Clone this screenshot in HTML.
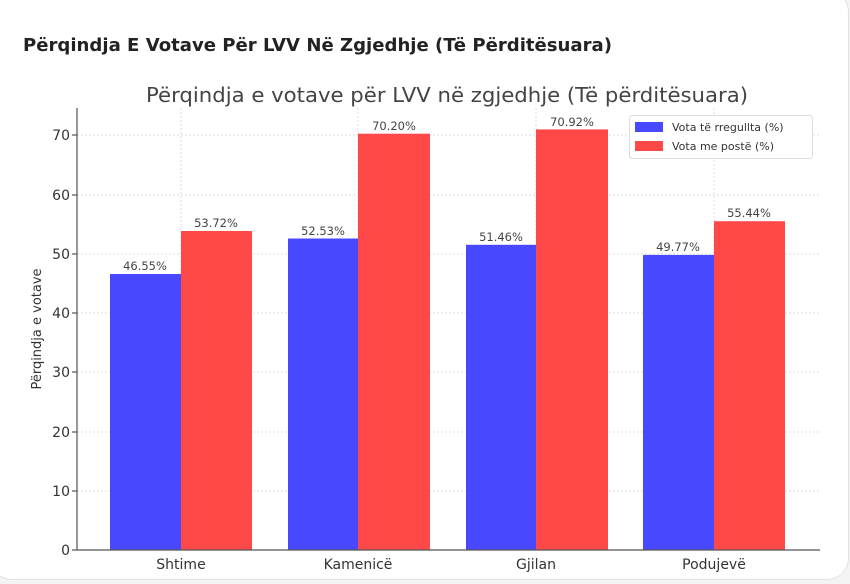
<!DOCTYPE html>
<html><head><meta charset="utf-8"><style>
body{margin:0;background:#f4f4f4;}
.card{position:absolute;left:-10px;top:-10px;width:857px;height:588px;background:#fff;border:1px solid #e2e2e2;border-radius:22px;}
svg{position:absolute;left:0;top:0;}
text{font-family:"DejaVu Sans","Liberation Sans",sans-serif;}
</style></head><body>
<div class="card"></div>
<svg width="850" height="584" viewBox="0 0 850 584">
<text x="23" y="51" font-size="18" font-weight="bold" fill="#222" textLength="589" lengthAdjust="spacingAndGlyphs">Përqindja E Votave Për LVV Në Zgjedhje (Të Përditësuara)</text>
<text x="146" y="102" font-size="20" fill="#444" textLength="602" lengthAdjust="spacingAndGlyphs">Përqindja e votave për LVV në zgjedhje (Të përditësuara)</text>
<g stroke="#ddd" stroke-dasharray="2,2" stroke-width="1">
<line x1="77" x2="820" y1="491" y2="491"/><line x1="77" x2="820" y1="432" y2="432"/>
<line x1="77" x2="820" y1="372" y2="372"/><line x1="77" x2="820" y1="313" y2="313"/>
<line x1="77" x2="820" y1="254" y2="254"/><line x1="77" x2="820" y1="195" y2="195"/>
<line x1="77" x2="820" y1="135" y2="135"/>
<line x1="181" x2="181" y1="108" y2="550"/><line x1="358" x2="358" y1="108" y2="550"/>
<line x1="536" x2="536" y1="108" y2="550"/><line x1="714" x2="714" y1="108" y2="550"/>
</g>
<g fill="#4848ff">
<rect x="110" y="274" width="71" height="276"/><rect x="288" y="238.5" width="70" height="311.5"/>
<rect x="466" y="244.8" width="70" height="305.2"/><rect x="643" y="254.9" width="71" height="295.1"/>
</g>
<g fill="#ff4848">
<rect x="181" y="231" width="71" height="319"/><rect x="358" y="133.7" width="72" height="416.3"/>
<rect x="536" y="129.4" width="72" height="420.6"/><rect x="714" y="221.2" width="71" height="328.8"/>
</g>
<g font-size="11.5" fill="#444" text-anchor="middle">
<text x="145" y="270">46.55%</text><text x="216" y="227">53.72%</text>
<text x="323" y="235">52.53%</text><text x="394" y="130">70.20%</text>
<text x="501" y="241">51.46%</text><text x="572" y="126">70.92%</text>
<text x="678" y="251">49.77%</text><text x="749" y="217">55.44%</text>
</g>
<g stroke="#555" stroke-width="1.2"><line x1="77" x2="77" y1="108" y2="550"/><line x1="77" x2="820" y1="550" y2="550"/>
<line x1="72" x2="77" y1="550" y2="550"/><line x1="72" x2="77" y1="491" y2="491"/><line x1="72" x2="77" y1="432" y2="432"/>
<line x1="72" x2="77" y1="372" y2="372"/><line x1="72" x2="77" y1="313" y2="313"/><line x1="72" x2="77" y1="254" y2="254"/>
<line x1="72" x2="77" y1="195" y2="195"/><line x1="72" x2="77" y1="135" y2="135"/></g>
<g font-size="14" fill="#333" text-anchor="end">
<text x="70" y="555">0</text><text x="70" y="496">10</text><text x="70" y="437">20</text><text x="70" y="377">30</text>
<text x="70" y="318">40</text><text x="70" y="259">50</text><text x="70" y="200">60</text><text x="70" y="140">70</text>
</g>
<g font-size="14" fill="#333" text-anchor="middle">
<text x="181" y="569">Shtime</text><text x="358" y="569">Kamenicë</text><text x="536" y="569">Gjilan</text><text x="714" y="569">Podujevë</text>
</g>
<text transform="translate(41,329) rotate(-90)" font-size="13" fill="#333" text-anchor="middle">Përqindja e votave</text>
<rect x="629.5" y="115.5" width="183" height="43" fill="#fff" stroke="#ddd" rx="3"/>
<rect x="635" y="122" width="28" height="10" fill="#4848ff"/><rect x="635" y="141" width="28" height="10" fill="#ff4848"/>
<g font-size="11" fill="#333"><text x="672" y="131">Vota të rregullta (%)</text><text x="672" y="150">Vota me postë (%)</text></g>
</svg>
</body></html>
